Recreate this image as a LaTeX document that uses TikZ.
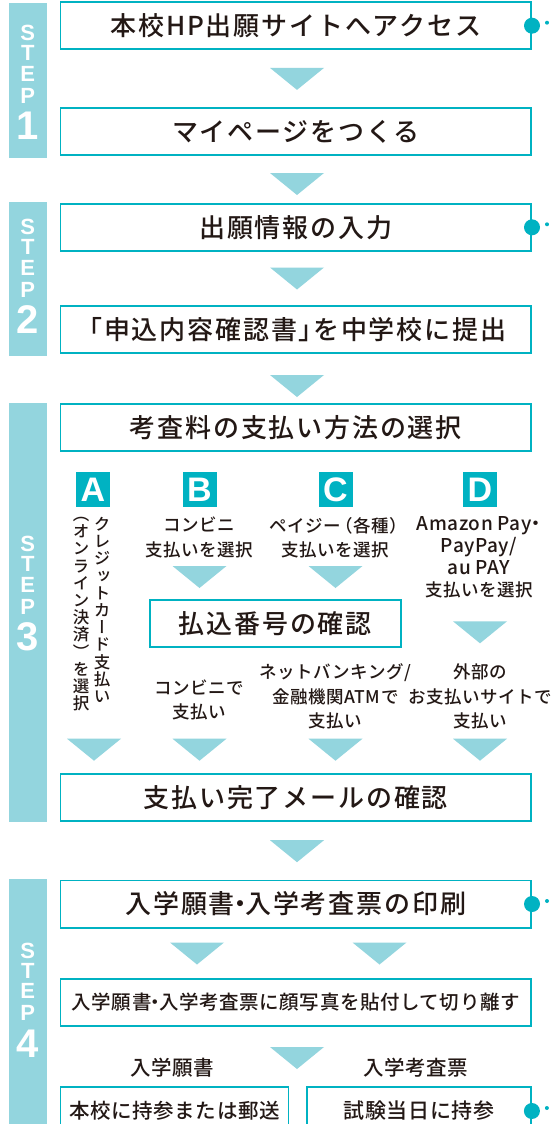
\documentclass[tikz,border=0pt]{standalone}
\usepackage{fontspec}
\usetikzlibrary{calc}
\newfontfamily\jp[LetterSpace=7,UprightFont={* Medium},BoldFont={* Bold}]{Noto Sans CJK JP}
\newfontfamily\jps[LetterSpace=3,UprightFont={* Medium},BoldFont={* Bold}]{Noto Sans CJK JP}
\newfontfamily\jpv[RawFeature=+vert,UprightFont={* Medium},BoldFont={* Bold}]{Noto Sans CJK JP}
\newfontfamily\hv{Liberation Sans}
\definecolor{barc}{HTML}{93D5DE}
\definecolor{tealb}{HTML}{00B2C2}
\definecolor{tric}{HTML}{93D5DE}
\definecolor{txt}{HTML}{231815}
\tikzset{
 mainbox/.style={draw=tealb, line width=1.8pt, minimum width=470.6pt, minimum height=47.2pt, inner sep=0pt, text=txt, font=\jp\fontsize{26}{30}\selectfont},
 sub/.style={text=txt, align=center, inner sep=0pt, font=\jps\fontsize{17.5}{24.5}\selectfont},
 lbox/.style={fill=tealb, text=white, minimum width=34pt, minimum height=35pt, inner sep=0pt, font=\hv\bfseries\fontsize{34}{34}\selectfont},
 stepl/.style={text=white, inner sep=0pt, font=\hv\bfseries\fontsize{22}{22}\selectfont},
 stepd/.style={text=white, inner sep=0pt, font=\hv\bfseries\fontsize{40}{40}\selectfont},
 vcol/.style={text=txt, align=center, inner sep=0pt, anchor=north, font=\jpv\fontsize{16.5}{17.2}\selectfont},
}
\newcommand\tri[2]{\fill[tric] (#1-27,#2-11) -- (#1+27,#2-11) -- (#1,#2+11) -- cycle;}
\newcommand\dotmark[1]{\fill[tealb] (#1.east) circle (8); \fill[tealb] ($(#1.east)+(15,-3)$) circle (2);}
\newcommand\steplbl[3]{%
 \node[stepl] (#1S) at (27.8,#2-50) {S};
 \node[stepl] (#1T) at (27.8,#2-30) {T};
 \node[stepl] (#1E) at (27.8,#2-9.5) {E};
 \node[stepl] (#1P) at (27.8,#2+12.5) {P};
 \node[stepd] (#1N) at (27.8,#2+43) {#3};}
\begin{document}
\begin{tikzpicture}[x=1pt,y=-1pt]
\useasboundingbox (0,0) rectangle (550,1124);
\clip (0,0) rectangle (550,1124);
\fill[white] (0,0) rectangle (550,1124);
% step bars
\fill[barc] (9.1,3) rectangle (46.6,158);
\fill[barc] (9.1,201.6) rectangle (46.6,355.5);
\fill[barc] (9.1,403) rectangle (46.6,822.4);
\fill[barc] (9.1,879.3) rectangle (46.6,1130);
\steplbl{st1}{83}{1}
\steplbl{st2}{277}{2}
\steplbl{st3}{594}{3}
\steplbl{st4}{1000.5}{4}
% main boxes
\node[mainbox] (b1) at (295.8,25.7) {本校HP出願サイトへアクセス};
\node[mainbox] (b2) at (295.8,131.5) {マイページをつくる};
\node[mainbox] (b3) at (295.8,227.3) {出願情報の入力};
\node[mainbox] (b4) at (295.8,329.75) {\kern-0.35em「申込内容確認書」\kern-0.45em を中学校に提出};
\node[mainbox] (b5) at (295.8,427.5) {考査料の支払い方法の選択};
\node[mainbox, minimum width=250.8pt] (b6) at (275.3,623.3) {払込番号の確認};
\node[mainbox] (b7) at (295.8,797.3) {支払い完了メールの確認};
\node[mainbox] (b8) at (295.8,904) {入学願書\kern-0.3em・\kern-0.3em 入学考査票の印刷};
\node[mainbox, font=\jps\fontsize{19.5}{24}\selectfont] (b9) at (295.8,1002.5) {入学願書\kern-0.3em・\kern-0.3em 入学考査票に顔写真を貼付して切り離す};
\node[mainbox, minimum width=228pt, minimum height=48pt, font=\jps\fontsize{20.5}{24}\selectfont] (b10) at (174.5,1111) {本校に持参または郵送};
\node[mainbox, minimum width=224pt, minimum height=48pt, font=\jps\fontsize{21}{24}\selectfont] (b11) at (419,1111) {試験当日に持参};
% dots
\dotmark{b1}
\dotmark{b3}
\dotmark{b8}
\dotmark{b11}
% main triangles
\tri{297}{78.9}
\tri{297}{184}
\tri{297}{278.5}
\tri{297}{386}
\tri{297}{851.2}
\tri{197}{953.5}
\tri{379.5}{953.5}
\tri{297}{1058}
% letter boxes
\node[lbox] (lA) at (92.8,489.5) {A};
\node[lbox] (lB) at (199.5,489.5) {B};
\node[lbox] (lC) at (335.5,489.5) {C};
\node[lbox] (lD) at (480,489.5) {D};
% column texts
\node[vcol] (vA1) at (102,517) {ク\\レ\\ジ\\ッ\\ト\\カ\\ー\\ド\\支\\払\\い};
\node[vcol] (vA2) at (81,517) {（\\オ\\ン\\ラ\\イ\\ン\\決\\済\\）\\を\\選\\択};
\node[sub] (tB1) at (199.5,537.5) {コンビニ\\支払いを選択};
\node[sub] (tC1) at (335.5,537.5) {ペイジー\kern-0.3em（各種）\kern-0.3em\\支払いを選択};
\node[sub, font=\jps\fontsize{19}{22}\selectfont] (tD1) at (479,557) {Amazon Pay\kern-0.25em・\kern-0.25em\\PayPay/\\au PAY\\{\fontsize{17.5}{22}\selectfont 支払いを選択}};
\tri{199.5}{577}
\tri{335.5}{577}
\tri{480}{632.3}
\node[sub] (tB2) at (199.5,699.7) {コンビニで\\支払い};
\node[sub] (tC2) at (335.5,696.6) {ネットバンキング/\\金融機関ATMで\\支払い};
\node[sub] (tD2) at (480,696.6) {外部の\\お支払いサイトで\\支払い};
\tri{94}{749.7}
\tri{199.5}{749.7}
\tri{335.5}{749.7}
\tri{480}{749.7}
% step 4 labels
\node[sub, font=\jps\fontsize{20.5}{24}\selectfont] (l10) at (172,1068) {入学願書};
\node[sub, font=\jps\fontsize{20.5}{24}\selectfont] (l11) at (415.6,1068) {入学考査票};
\end{tikzpicture}
\end{document}
